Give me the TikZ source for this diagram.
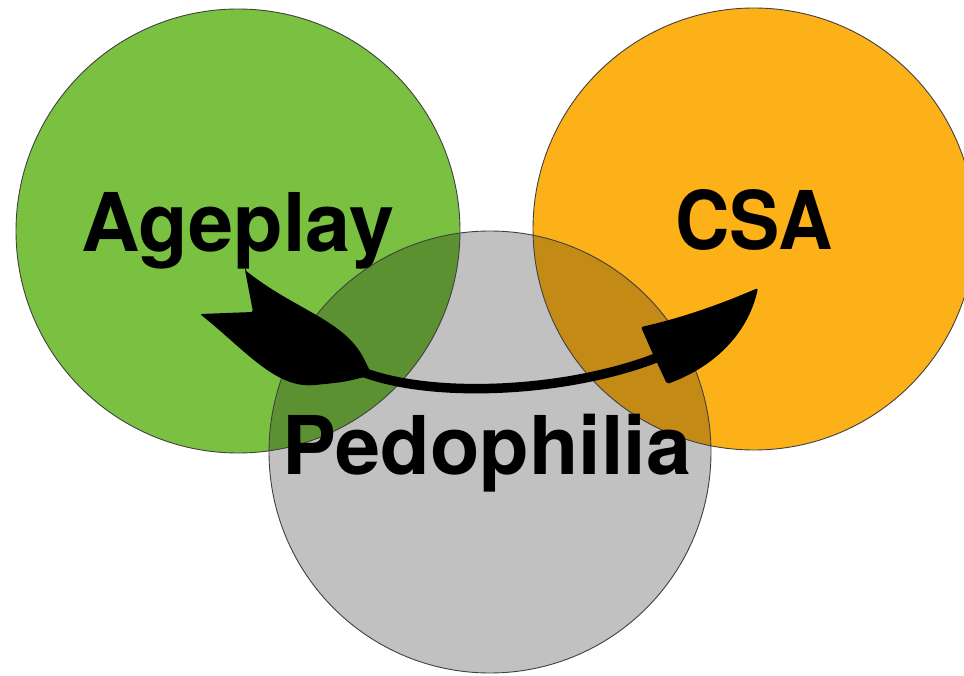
\documentclass[tikz,border=0pt]{standalone}
\usepackage{fontspec}
\setsansfont{TeX Gyre Heros}
\definecolor{agegreen}{RGB}{122,193,66}
\definecolor{csaorange}{RGB}{253,177,24}
\definecolor{pedgray}{RGB}{193,193,193}
\definecolor{greenmix}{RGB}{92,145,50}
\definecolor{orangemix}{RGB}{196,138,22}
\begin{document}
\begin{tikzpicture}[x=1pt,y=-1pt,
  rim/.style={draw=black!75,line width=0.9pt},
  word/.style={font=\sffamily\bfseries\fontsize{81}{81}\selectfont,anchor=base,inner sep=0pt}]
\useasboundingbox (0,0) rectangle (964,676);
\fill[agegreen] (238,231) circle (222);
\fill[csaorange] (754,229) circle (221);
\fill[pedgray] (490,452) circle (221);
\begin{scope}
\clip (238,231) circle (222);
\fill[greenmix] (490,452) circle (221);
\end{scope}
\begin{scope}
\clip (754,229) circle (221);
\fill[orangemix] (490,452) circle (221);
\end{scope}
\draw[rim] (238,231) circle (222);
\draw[rim] (754,229) circle (221);
\draw[rim] (490,452) circle (221);
\node[word] (ageplay) at (238,252) {Ageplay};
\node[word,xscale=0.93] (csa) at (754,250) {CSA};
\node[word] (pedo) at (487,474) {Pedophilia};
\coordinate (neck) at (360,371);
\coordinate (base) at (656,358);
\draw[line width=9.5pt] (neck) .. controls (430,399) and (565,393) .. (base);
\fill[rounded corners=2pt] (245,270) .. controls (249,290) .. (253,312) -- (200,314)
  .. controls (245,350) and (275,388) .. (315,385) .. controls (345,382) .. (372,375)
  -- (365,361) .. controls (345,320) and (295,310) .. cycle;
\fill[rounded corners=2pt] (641,327) .. controls (690,316) and (730,300) .. (758,288)
  .. controls (748,335) and (712,368) .. (667,384) -- (652,352) -- cycle;
\end{tikzpicture}
\end{document}
